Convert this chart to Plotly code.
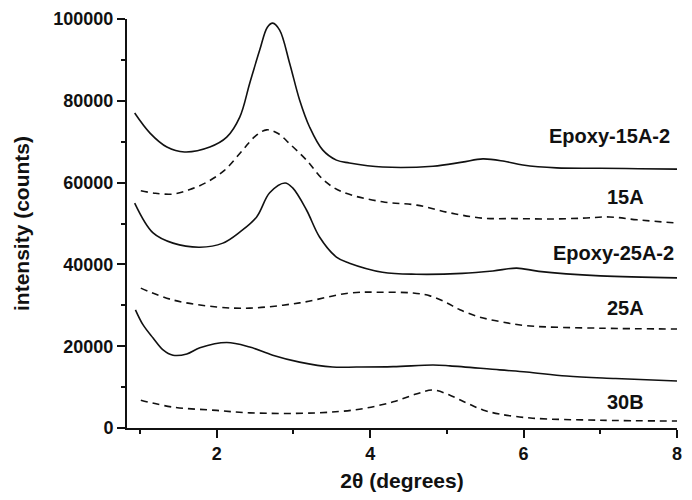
import plotly.graph_objects as go

# 2-theta (degrees) and intensity (thousands of counts)
epoxy15a_x = [0.93, 1.13, 1.35, 1.58, 1.91, 2.13, 2.30, 2.43, 2.56, 2.66, 2.73, 2.82, 2.95, 3.08, 3.21, 3.38, 3.56, 3.73, 4.16, 4.82, 5.2, 5.47, 5.75, 5.99, 6.43, 7.0, 7.5, 8.0]
epoxy15a_y = [77.0, 72.1, 68.7, 67.5, 68.7, 71.1, 76.0, 84.3, 92.4, 98.0, 99.0, 97.3, 89.2, 80.2, 73.6, 68.0, 65.5, 64.8, 63.8, 64.0, 65.0, 65.8, 65.2, 64.3, 63.6, 63.5, 63.4, 63.3]

c15a_x = [1.01, 1.2, 1.43, 1.65, 1.87, 2.1, 2.34, 2.5, 2.65, 2.8, 2.95, 3.17, 3.40, 3.64, 4.16, 4.61, 5.04, 5.47, 5.9, 6.34, 6.77, 7.12, 7.48, 8.0]
c15a_y = [58.0, 57.4, 57.2, 58.3, 60.1, 63.0, 68.0, 71.3, 72.9, 72.0, 69.5, 65.5, 60.5, 57.7, 55.3, 54.5, 52.6, 51.3, 51.2, 51.1, 51.3, 51.6, 50.9, 50.1]

epoxy25a_x = [0.93, 1.17, 1.43, 1.78, 2.08, 2.30, 2.52, 2.69, 2.89, 2.99, 3.17, 3.34, 3.56, 3.73, 4.16, 4.6, 5.2, 5.6, 5.91, 6.2, 7.0, 8.0]
epoxy25a_y = [55.0, 47.7, 45.2, 44.2, 45.2, 47.9, 51.6, 57.5, 59.9, 58.7, 53.3, 46.7, 41.8, 40.3, 38.1, 37.6, 37.8, 38.4, 39.1, 38.3, 37.2, 36.7]

c25a_x = [1.01, 1.43, 2.0, 2.43, 3.08, 3.73, 4.13, 4.56, 4.78, 5.0, 5.17, 5.43, 5.73, 6.04, 7.0, 8.0]
c25a_y = [34.2, 31.3, 29.6, 29.3, 30.6, 33.0, 33.2, 33.0, 32.3, 30.6, 28.9, 27.1, 25.9, 25.0, 24.4, 24.2]

epoxy30b_x = [0.94, 1.04, 1.17, 1.30, 1.43, 1.61, 1.78, 2.13, 2.43, 2.73, 3.08, 3.51, 3.82, 4.3, 4.82, 5.04, 5.69, 6.04, 6.56, 7.2, 8.0]
epoxy30b_y = [28.9, 25.2, 22.0, 19.1, 17.8, 18.1, 19.6, 20.9, 19.8, 17.8, 16.1, 14.9, 14.9, 15.0, 15.4, 15.2, 14.2, 13.7, 12.7, 12.1, 11.5]

c30b_x = [1.01, 1.43, 2.0, 2.43, 3.30, 3.86, 4.30, 4.6, 4.82, 5.04, 5.26, 5.47, 5.69, 6.12, 7.0, 8.0]
c30b_y = [6.8, 5.1, 4.3, 3.7, 3.7, 4.6, 6.4, 8.3, 9.3, 8.0, 6.1, 4.4, 3.4, 2.4, 1.9, 1.7]

series_names = ["Epoxy-15A-2", "15A", "Epoxy-25A-2", "25A", "Epoxy-30B-2", "30B"]
label_x = [7.93, 7.6, 7.99, 7.6, 8.03, 7.6]
label_y = [71.4, 56.5, 42.8, 29.3, 17.1, 6.4]

x_tickvals = [2, 4, 6, 8]
y_tickvals = [0, 20000, 40000, 60000, 80000, 100000]

series = [
    (epoxy15a_x, epoxy15a_y, "solid"),
    (c15a_x, c15a_y, "dash"),
    (epoxy25a_x, epoxy25a_y, "solid"),
    (c25a_x, c25a_y, "dash"),
    (epoxy30b_x, epoxy30b_y, "solid"),
    (c30b_x, c30b_y, "dash"),
]

fig = go.Figure()
for (xs, ys, dash), name in zip(series, series_names):
    fig.add_trace(go.Scatter(
        x=xs, y=[v * 1000 for v in ys], mode="lines", name=name,
        line=dict(color="#111111", width=1.6, dash="7px,5px" if dash == "dash" else "solid",
                  shape="spline", smoothing=1.0),
        showlegend=False,
    ))

FONT = "Liberation Sans, Arial, sans-serif"
for name, lx, ly in zip(series_names, label_x, label_y):
    fig.add_annotation(x=lx, y=ly * 1000, text=name, showarrow=False, xanchor="right",
                       yanchor="middle", font=dict(family=FONT, size=20, color="#111111", weight="bold"))

axis_common = dict(
    showline=True, linecolor="#111111", linewidth=2, ticks="outside", ticklen=8, tickwidth=2,
    tickcolor="#111111", showgrid=False, zeroline=False, mirror=False, automargin=False,
    tickfont=dict(family=FONT, size=18, color="#111111", weight="bold"),
)

fig.update_xaxes(range=[0.83, 8.0], tickvals=x_tickvals,
                 minor=dict(dtick=1, tick0=1, ticks="outside", ticklen=4, tickwidth=2, tickcolor="#111111"),
                 title=dict(text="2θ (degrees)", standoff=11,
                            font=dict(family=FONT, size=21, color="#111111", weight="bold")),
                 **axis_common)
fig.update_yaxes(range=[0, 100000], tickvals=y_tickvals, tickformat="d",
                 minor=dict(dtick=10000, tick0=0, ticks="outside", ticklen=4, tickwidth=2, tickcolor="#111111"),
                 title=dict(text="intensity (counts)", standoff=18,
                            font=dict(family=FONT, size=21, color="#111111", weight="bold")),
                 **axis_common)

fig.update_layout(
    width=692, height=500,
    margin=dict(l=119, r=23, t=11, b=80),
    paper_bgcolor="white", plot_bgcolor="white",
)

fig.write_html("out.html")
